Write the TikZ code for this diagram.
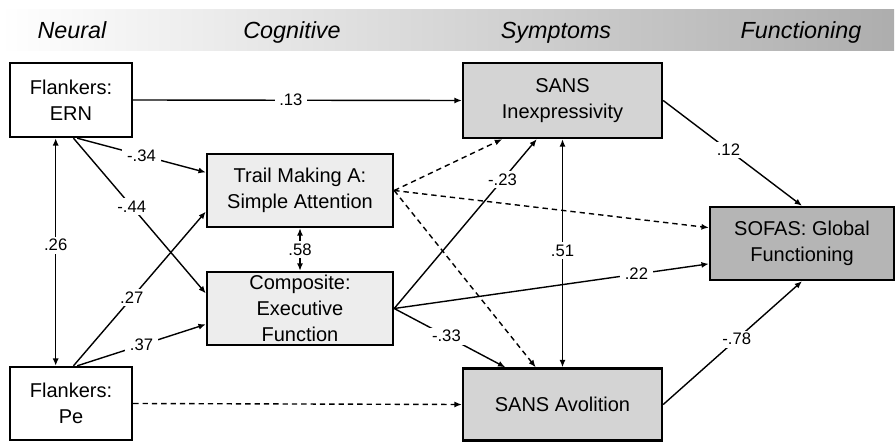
\documentclass[tikz,border=0pt]{standalone}
\usepackage{fontspec}
\setmainfont{Liberation Sans}
\usetikzlibrary{arrows.meta,calc}
\begin{document}
\begin{tikzpicture}[x=0.75pt,y=-0.75pt,
  boxnode/.style={draw=black, line width=1.8pt, align=center, inner sep=0pt,
    font=\fontsize{15}{19.5}\selectfont},
  conn/.style={line width=1.05pt, -{Latex[length=5.5pt,width=4.5pt]}},
  dconn/.style={conn, dash pattern=on 4pt off 3pt},
  bconn/.style={line width=1.05pt, {Latex[length=5.5pt,width=4.5pt]}-{Latex[length=5.5pt,width=4.5pt]}},
  lab/.style={fill=white, inner xsep=3.5pt, inner ysep=2pt, font=\fontsize{12.5}{14}\selectfont},
  hdr/.style={anchor=base, font=\fontsize{17.5}{20}\selectfont\itshape}]
\useasboundingbox (0,0) rectangle (896,442);
% header band
\shade[left color=white, right color=black!32] (0,10) rectangle (894,51);
\node[hdr] (hN) at (72,39) {Neural};
\node[hdr] (hC) at (292,39) {Cognitive};
\node[hdr] (hS) at (556,39) {Symptoms};
\node[hdr] (hF) at (801,39) {Functioning};
% boxes
\node[boxnode, fill=white, minimum width=91.5pt, minimum height=55.5pt] (ern) at (71,100) {Flankers:\\ERN};
\node[boxnode, fill=white, minimum width=91.5pt, minimum height=54.75pt] (pe) at (71,403.5) {Flankers:\\Pe};
\node[boxnode, fill=black!7, minimum width=139.5pt, minimum height=54.75pt] (trail) at (300,190.5) {Trail Making A:\\Simple Attention};
\node[boxnode, fill=black!7, minimum width=139.5pt, minimum height=54.75pt] (comp) at (300,308.5) {Composite:\\Executive\\Function};
\node[boxnode, fill=black!17, minimum width=149.25pt, minimum height=56.25pt] (inex) at (562.5,100.5) {SANS\\Inexpressivity};
\node[boxnode, fill=black!17, minimum width=149.25pt, minimum height=54pt] (avol) at (562.5,404.5) {SANS Avolition};
\node[boxnode, fill=black!29, minimum width=138pt, minimum height=54.75pt] (sofas) at (802,243.5) {SOFAS: Global\\Functioning};
% connectors
\draw[conn] (ern.east) -- node[lab, pos=0.48] {.13} (inex.west);
\draw[conn] ($(ern.south west)!0.55!(ern.south east)$) -- node[lab, pos=0.5] {-.34} ($(trail.north west)!0.26!(trail.south west)$);
\draw[conn] ($(ern.south west)!0.52!(ern.south east)$) -- node[lab, pos=0.44] {-.44} ($(comp.north west)!0.30!(comp.south west)$);
\draw[conn] ($(pe.north west)!0.52!(pe.north east)$) -- node[lab, pos=0.44] {.27} ($(trail.north west)!0.78!(trail.south west)$);
\draw[conn] ($(pe.north west)!0.55!(pe.north east)$) -- node[lab, pos=0.5] {.37} ($(comp.north west)!0.71!(comp.south west)$);
\draw[bconn] ($(ern.south west)!0.377!(ern.south east)$) -- node[lab, pos=0.47] {.26} ($(pe.north west)!0.377!(pe.north east)$);
\draw[bconn] (trail.south) -- node[lab, pos=0.5] {.58} (comp.north);
\draw[dconn] (trail.east) -- ($(inex.south west)!0.2!(inex.south east)$);
\draw[dconn] (trail.east) -- ($(sofas.north west)!0.29!(sofas.south west)$);
\draw[dconn] (trail.east) -- ($(avol.north west)!0.367!(avol.north east)$);
\draw[conn] (comp.east) -- node[lab, pos=0.76] {-.23} ($(inex.south west)!0.372!(inex.south east)$);
\draw[conn] (comp.east) -- node[lab, pos=0.77] {.22} ($(sofas.north west)!0.77!(sofas.south west)$);
\draw[conn] (comp.east) -- node[lab, pos=0.47] {-.33} ($(avol.north west)!0.216!(avol.north east)$);
\draw[bconn] (inex.south) -- node[lab, pos=0.49] {.51} (avol.north);
\draw[conn] (inex.east) -- node[lab, pos=0.47] {.12} (sofas.north);
\draw[conn] (avol.east) -- node[lab, pos=0.53] {-.78} (sofas.south);
\draw[dconn] (pe.east) -- (avol.west);
\end{tikzpicture}
\end{document}
